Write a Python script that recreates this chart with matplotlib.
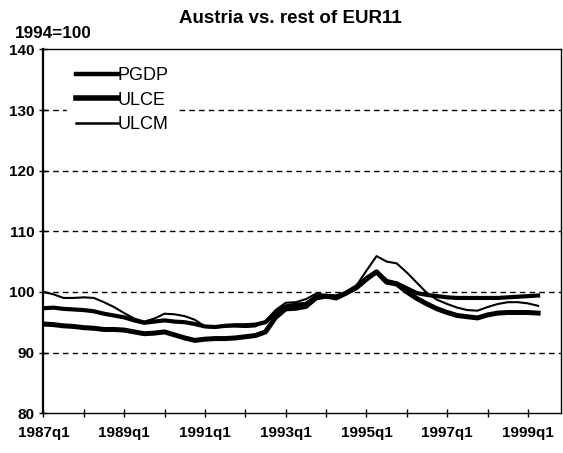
#!/usr/bin/env python3
"""
Austria vs. rest of EUR11 -- relative prices and unit labour costs
"""

import matplotlib
matplotlib.use('Agg')
import matplotlib.pyplot as plt
import numpy as np

plt.rcParams['font.family'] = ['Liberation Sans', 'DejaVu Sans']
plt.rcParams['font.weight'] = 'bold'

# quarterly, 1987q1 .. 1999q2
start_year = 1987
pgdp = [97.3, 97.4, 97.2, 97.1, 97.0, 96.8, 96.4, 96.1, 95.8, 95.3,
        94.9, 95.1, 95.3, 95.1, 95.0, 94.7, 94.3, 94.2, 94.4, 94.5,
        94.5, 94.6, 95.0, 96.5, 97.6, 97.9, 98.0, 99.2, 99.3, 99.2,
        99.8, 100.6, 102.0, 103.3, 101.8, 101.4, 100.6, 99.8, 99.5, 99.3,
        99.1, 99.0, 99.0, 99.0, 99.0, 99.0, 99.1, 99.2, 99.3, 99.4]
ulce = [94.7, 94.6, 94.4, 94.3, 94.1, 94.0, 93.8, 93.8, 93.7, 93.4,
        93.1, 93.2, 93.4, 92.9, 92.4, 92.0, 92.2, 92.3, 92.3, 92.4,
        92.6, 92.8, 93.4, 95.8, 97.2, 97.3, 97.6, 99.0, 99.3, 99.0,
        99.8, 100.8, 102.2, 103.3, 101.6, 101.3, 100.0, 98.9, 98.0, 97.2,
        96.6, 96.1, 95.9, 95.7, 96.2, 96.5, 96.6, 96.6, 96.6, 96.5]
ulcm = [100.0, 99.6, 99.0, 99.0, 99.1, 99.0, 98.3, 97.5, 96.5, 95.6,
        95.1, 95.6, 96.4, 96.3, 96.0, 95.4, 94.3, 94.2, 94.3, 94.3,
        94.2, 94.3, 95.2, 97.0, 98.2, 98.3, 98.8, 99.7, 99.5, 99.4,
        100.0, 101.0, 103.5, 105.9, 105.0, 104.7, 103.2, 101.5, 99.8, 98.7,
        98.0, 97.4, 97.0, 96.9, 97.5, 98.0, 98.3, 98.3, 98.1, 97.7]

q = np.arange(len(pgdp))
tick_years = list(range(1987, 2000, 2))


def plot_austria():
    fig = plt.figure(figsize=(5.63, 4.53), dpi=100)
    ax = fig.add_axes([0.077, 0.088, 0.92, 0.803])

    ax.plot(q, pgdp, color='black', lw=3.0, label='PGDP', zorder=3)
    ax.plot(q, ulce, color='black', lw=3.6, label='ULCE', zorder=3)
    ax.plot(q, ulcm, color='black', lw=1.5, label='ULCM', zorder=4)

    ax.set_ylim(80, 140)
    ax.set_yticks(range(80, 141, 10))
    ax.set_xlim(0, 51.3)
    ax.set_xticks([(y - start_year) * 4 for y in tick_years])
    ax.set_xticklabels([f'{y}q1' for y in tick_years])
    ax.set_xticks(range(0, 52, 4), minor=True)
    ax.tick_params(axis='both', which='both', direction='inout', length=6,
                   width=1, labelsize=11)
    ax.tick_params(axis='x', pad=6)
    for lab in ax.get_xticklabels() + ax.get_yticklabels():
        lab.set_fontweight('bold')

    for v in range(90, 140, 10):
        ax.axhline(v, color='black', lw=1, ls=(0, (4, 3)), zorder=1)

    for s in ax.spines.values():
        s.set_linewidth(1)
    ax.spines['left'].set_linewidth(1.6)

    fig.text(0.515, 0.96, 'Austria vs. rest of EUR11', fontsize=13.5,
             fontweight='bold', ha='center', va='center')
    fig.text(0.026, 0.927, '1994=100', fontsize=12.3, fontweight='bold',
             va='center')

    leg = ax.legend(loc='upper left', bbox_to_anchor=(0.029, 1.0),
                    frameon=True, fancybox=False, edgecolor='white',
                    framealpha=1, fontsize=13, handlelength=2.3,
                    handletextpad=0.0, labelspacing=0.4, borderpad=0.5)
    leg.set_zorder(5)
    for t in leg.get_texts():
        t.set_fontweight('normal')
    for h, w in zip(leg.get_lines(), [3.2, 4.0, 1.8]):
        h.set_linewidth(w)

    fig.savefig('out.png', dpi=100)
    plt.close('all')


plot_austria()
